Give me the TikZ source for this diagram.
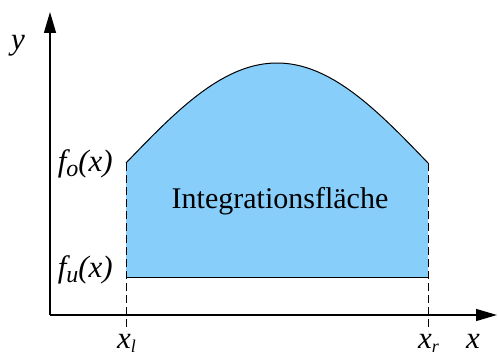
\documentclass[tikz,border=0pt]{standalone}
\usepackage{fontspec}
\setmainfont{Liberation Serif}
\usetikzlibrary{arrows.meta}
\definecolor{areablue}{RGB}{135,206,250}
\newcommand\lowsub[1]{\raisebox{-5pt}{\fontsize{24}{24}\selectfont #1}}
\newcommand\smallsub[1]{\raisebox{-4pt}{\fontsize{18}{18}\selectfont #1}}
\begin{document}
\begin{tikzpicture}[x=1pt,y=-1pt,
  axis/.style={line width=1.3pt,-{Triangle[length=21pt,width=12pt]}},
  edge/.style={line width=1pt},
  guide/.style={line width=1pt,dash pattern=on 8pt off 4pt},
  lbl/.style={inner sep=0pt,anchor=base,font=\fontsize{31}{36}\selectfont\itshape},
  txt/.style={inner sep=0pt,anchor=base,font=\fontsize{30}{35}\selectfont}]
\useasboundingbox (0,0) rectangle (498,358);
% key points
\coordinate (O) at (50,315);
\coordinate (ytip) at (50,12);
\coordinate (xtip) at (497,315);
\coordinate (tl) at (126,163);
\coordinate (tr) at (428,163);
\coordinate (bl) at (126,277);
\coordinate (br) at (428,277);
\coordinate (dl) at (126,331);
\coordinate (dr) at (428,331);
% area
\fill[areablue] (bl) -- (tl) -- plot[domain=126:428,samples=100] (\x,{163-100*cos((\x-277)/302*180)}) -- (br) -- cycle;
\draw[edge] plot[domain=126:428,samples=100] (\x,{163-100*cos((\x-277)/302*180)});
\draw[edge] (bl) -- (br);
\draw[guide] (tl) -- (dl);
\draw[guide] (tr) -- (dr);
% axes
\draw[axis] (O) -- (ytip);
\draw[axis] (O) -- (xtip);
% labels
\node[lbl] (ylab) at (18,50) {y};
\node[lbl,anchor=base east] (fo) at (113,172) {f\lowsub{o}(x)};
\node[lbl,anchor=base east] (fu) at (113,277) {f\lowsub{u}(x)};
\node[lbl,anchor=base west] (xl) at (117,348) {x\smallsub{l}};
\node[lbl,anchor=base west] (xr) at (418,348) {x\smallsub{r}};
\node[lbl] (xlab) at (473,348) {x};
\node[txt] (area) at (280,209) {Integrationsfläche};
\end{tikzpicture}
\end{document}
